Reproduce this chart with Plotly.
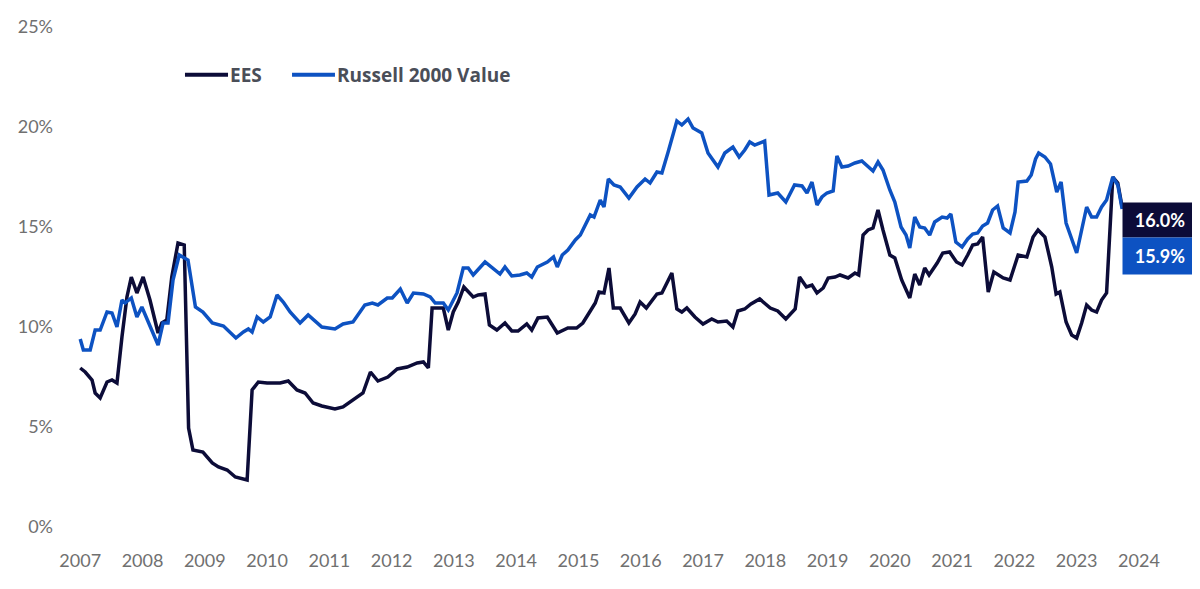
import plotly.graph_objects as go

# EES, trailing yield %, x as decimal years
ees_x = [2007.00, 2007.08, 2007.19, 2007.24, 2007.32, 2007.43, 2007.51, 2007.59, 2007.67, 2007.75,
         2007.82, 2007.91, 2008.01, 2008.12, 2008.25, 2008.31, 2008.39, 2008.47, 2008.57, 2008.67,
         2008.74, 2008.81, 2008.97, 2009.12, 2009.22, 2009.36, 2009.49, 2009.68, 2009.76, 2009.86,
         2010.00, 2010.21, 2010.34, 2010.48, 2010.61, 2010.74, 2010.88, 2011.09, 2011.22, 2011.37,
         2011.54, 2011.66, 2011.78, 2011.94, 2012.09, 2012.25, 2012.41, 2012.51, 2012.59, 2012.65,
         2012.83, 2012.91, 2012.99, 2013.07, 2013.16, 2013.31, 2013.39, 2013.50, 2013.57, 2013.69,
         2013.82, 2013.93, 2014.03, 2014.17, 2014.25, 2014.35, 2014.50, 2014.66, 2014.83, 2014.97,
         2015.07, 2015.19, 2015.27, 2015.33, 2015.41, 2015.49, 2015.56, 2015.67, 2015.81, 2015.91,
         2015.99, 2016.09, 2016.18, 2016.26, 2016.34, 2016.50, 2016.58, 2016.66, 2016.74, 2016.87,
         2017.00, 2017.14, 2017.24, 2017.38, 2017.48, 2017.56, 2017.67, 2017.77, 2017.91, 2018.08,
         2018.20, 2018.33, 2018.48, 2018.55, 2018.66, 2018.75, 2018.83, 2018.93, 2019.01, 2019.12,
         2019.20, 2019.33, 2019.44, 2019.50, 2019.57, 2019.65, 2019.73, 2019.81, 2019.89, 2020.00,
         2020.08, 2020.19, 2020.32, 2020.40, 2020.48, 2020.56, 2020.63, 2020.76, 2020.85, 2020.96,
         2021.07, 2021.16, 2021.25, 2021.33, 2021.41, 2021.49, 2021.58, 2021.67, 2021.82, 2021.93,
         2022.06, 2022.20, 2022.30, 2022.38, 2022.49, 2022.60, 2022.67, 2022.73, 2022.83, 2022.92,
         2023.00, 2023.08, 2023.16, 2023.24, 2023.32, 2023.40, 2023.48, 2023.58, 2023.66, 2023.73]
ees_y = [7.95, 7.75, 7.35, 6.7, 6.45, 7.25, 7.35, 7.2, 9.5, 11.5,
         12.5, 11.7, 12.5, 11.35, 9.7, 10.2, 10.35, 12.5, 14.2, 14.1,
         4.95, 3.85, 3.75, 3.2, 3.0, 2.85, 2.5, 2.35, 6.85, 7.25,
         7.2, 7.2, 7.3, 6.85, 6.7, 6.2, 6.05, 5.9, 6.0, 6.35,
         6.7, 7.75, 7.3, 7.5, 7.9, 8.0, 8.2, 8.25, 7.95, 10.95,
         10.95, 9.85, 10.75, 11.25, 12.0, 11.5, 11.6, 11.65, 10.1, 9.85,
         10.2, 9.8, 9.8, 10.15, 9.85, 10.45, 10.5, 9.7, 9.95, 9.95,
         10.2, 10.8, 11.2, 11.75, 11.7, 12.95, 10.95, 10.95, 10.2, 10.65,
         11.25, 10.95, 11.3, 11.65, 11.7, 12.7, 10.9, 10.75, 10.95, 10.5,
         10.15, 10.4, 10.25, 10.3, 10.0, 10.8, 10.9, 11.15, 11.4, 10.95,
         10.8, 10.4, 10.9, 12.5, 12.0, 12.1, 11.7, 11.95, 12.45, 12.5,
         12.6, 12.45, 12.7, 12.6, 14.6, 14.85, 14.95, 15.85, 14.85, 13.6,
         13.45, 12.35, 11.45, 12.65, 12.1, 12.95, 12.6, 13.2, 13.7, 13.75,
         13.25, 13.1, 13.6, 14.1, 14.15, 14.5, 11.75, 12.75, 12.45, 12.35,
         13.6, 13.5, 14.5, 14.85, 14.5, 13.0, 11.65, 11.75, 10.25, 9.6,
         9.45, 10.2, 11.1, 10.85, 10.75, 11.35, 11.7, 17.5, 17.2, 16.0]

# Russell 2000 Value
r2v_x = [2007.00, 2007.05, 2007.16, 2007.24, 2007.32, 2007.43, 2007.51, 2007.59, 2007.67, 2007.72,
         2007.82, 2007.91, 2007.99, 2008.12, 2008.25, 2008.33, 2008.41, 2008.49, 2008.59, 2008.73,
         2008.85, 2008.97, 2009.12, 2009.30, 2009.37, 2009.50, 2009.62, 2009.70, 2009.76, 2009.84,
         2009.94, 2010.05, 2010.16, 2010.26, 2010.37, 2010.53, 2010.66, 2010.88, 2011.09, 2011.22,
         2011.38, 2011.57, 2011.69, 2011.78, 2011.93, 2012.01, 2012.14, 2012.25, 2012.35, 2012.51,
         2012.62, 2012.70, 2012.83, 2012.91, 2013.05, 2013.15, 2013.23, 2013.31, 2013.50, 2013.63,
         2013.74, 2013.82, 2013.93, 2014.06, 2014.17, 2014.25, 2014.34, 2014.50, 2014.60, 2014.66,
         2014.74, 2014.83, 2014.95, 2015.03, 2015.11, 2015.19, 2015.25, 2015.35, 2015.41, 2015.48,
         2015.57, 2015.67, 2015.81, 2015.94, 2016.07, 2016.15, 2016.26, 2016.34, 2016.44, 2016.58,
         2016.66, 2016.76, 2016.84, 2016.98, 2017.08, 2017.24, 2017.35, 2017.48, 2017.58, 2017.67,
         2017.75, 2017.83, 2017.99, 2018.06, 2018.20, 2018.33, 2018.47, 2018.59, 2018.67, 2018.75,
         2018.83, 2018.91, 2018.99, 2019.09, 2019.15, 2019.23, 2019.33, 2019.44, 2019.55, 2019.63,
         2019.73, 2019.81, 2019.89, 2020.00, 2020.08, 2020.18, 2020.26, 2020.32, 2020.40, 2020.48,
         2020.56, 2020.64, 2020.72, 2020.84, 2020.92, 2020.98, 2021.06, 2021.16, 2021.25, 2021.33,
         2021.41, 2021.49, 2021.57, 2021.65, 2021.73, 2021.82, 2021.93, 2022.01, 2022.06, 2022.20,
         2022.27, 2022.34, 2022.39, 2022.49, 2022.58, 2022.68, 2022.75, 2022.83, 2022.92, 2023.00,
         2023.08, 2023.16, 2023.24, 2023.32, 2023.40, 2023.48, 2023.58, 2023.66, 2023.73]
r2v_y = [9.4, 8.85, 8.85, 9.85, 9.85, 10.75, 10.7, 10.0, 11.35, 11.2,
         11.45, 10.5, 11.0, 10.0, 9.1, 10.2, 10.2, 12.35, 13.6, 13.35,
         11.0, 10.75, 10.2, 10.05, 9.85, 9.45, 9.75, 9.9, 9.75, 10.5,
         10.25, 10.5, 11.6, 11.25, 10.75, 10.2, 10.6, 10.0, 9.9, 10.15,
         10.25, 11.1, 11.2, 11.1, 11.45, 11.45, 11.9, 11.2, 11.7, 11.65,
         11.5, 11.2, 11.2, 10.85, 11.7, 12.95, 12.95, 12.6, 13.25, 12.95,
         12.65, 13.0, 12.55, 12.6, 12.7, 12.5, 13.0, 13.25, 13.5, 13.0,
         13.6, 13.85, 14.35, 14.6, 15.15, 15.6, 15.5, 16.35, 16.0, 17.4,
         17.1, 17.0, 16.45, 17.0, 17.4, 17.2, 17.75, 17.7, 18.75, 20.3,
         20.1, 20.4, 19.95, 19.7, 18.7, 18.0, 18.7, 19.0, 18.5, 18.85,
         19.25, 19.1, 19.3, 16.6, 16.7, 16.25, 17.1, 17.05, 16.7, 17.25,
         16.1, 16.5, 16.7, 16.8, 18.55, 18.0, 18.05, 18.2, 18.3, 18.1,
         17.8, 18.25, 17.85, 16.85, 16.25, 15.0, 14.6, 13.95, 15.5, 15.0,
         14.95, 14.6, 15.25, 15.5, 15.45, 15.65, 14.25, 14.0, 14.4, 14.65,
         14.7, 15.05, 15.2, 15.85, 16.05, 14.95, 14.7, 15.75, 17.25, 17.3,
         17.6, 18.4, 18.7, 18.5, 18.15, 16.75, 17.25, 15.2, 14.35, 13.7,
         14.85, 16.0, 15.5, 15.5, 16.0, 16.35, 17.5, 17.1, 15.9]

years = list(range(2007, 2025))
y_ticks = [0, 5, 10, 15, 20, 25]

EES_COLOR = '#0c0c38'
R2V_COLOR = '#0d52c2'
LEGEND_TEXT = '#4a4e58'

fig = go.Figure()
fig.add_trace(go.Scatter(x=ees_x, y=ees_y, name='EES', mode='lines',
                         line=dict(color=EES_COLOR, width=3.5)))
fig.add_trace(go.Scatter(x=r2v_x, y=r2v_y, name='Russell 2000 Value', mode='lines',
                         line=dict(color=R2V_COLOR, width=3.5)))

# end-of-series value tags
fig.add_annotation(x=ees_x[-1], y=ees_y[-1], text='<b>%.1f%%</b>' % ees_y[-1],
                   xanchor='left', yanchor='middle', yshift=-13, showarrow=False,
                   bgcolor=EES_COLOR, width=74, height=34, borderpad=0,
                   font=dict(color='white', size=18, family='Lato'))
fig.add_annotation(x=r2v_x[-1], y=r2v_y[-1], text='<b>%.1f%%</b>' % r2v_y[-1],
                   xanchor='left', yanchor='middle', yshift=-47, showarrow=False,
                   bgcolor=R2V_COLOR, width=74, height=36, borderpad=0,
                   font=dict(color='white', size=18, family='Lato'))

# hand-made legend (longer line swatches, tight text like the original)
legend_y = 0.889
for name, color, x0, x1, tx in [('EES', EES_COLOR, 0.0990, 0.1374, 0.1385),
                                ('Russell 2000 Value', R2V_COLOR, 0.1945, 0.2328, 0.2340)]:
    fig.add_shape(type='line', xref='paper', yref='paper', x0=x0, x1=x1,
                  y0=legend_y, y1=legend_y, line=dict(color=color, width=4))
    fig.add_annotation(xref='paper', yref='paper', x=tx, y=legend_y, text='<b>%s</b>' % name,
                       xanchor='left', yanchor='middle', showarrow=False, borderpad=0,
                       font=dict(family='Open Sans', size=19, color=LEGEND_TEXT))

fig.update_layout(
    width=1200, height=589,
    margin=dict(l=66, r=13, t=7, b=60),
    plot_bgcolor='white', paper_bgcolor='white',
    font=dict(family='Lato', color='#707070', size=18),
    showlegend=False,
    xaxis=dict(range=[2006.9, 2024.9], tickvals=years, ticktext=[str(y) for y in years],
               showgrid=False, zeroline=False, showline=False, ticks='',
               ticklabelstandoff=11),
    yaxis=dict(range=[-0.5, 25.5], tickvals=y_ticks, ticktext=['%d%%' % v for v in y_ticks],
               showgrid=False, zeroline=False, showline=False, ticks='',
               ticklabelstandoff=20),
)

fig.write_html("out.html")
